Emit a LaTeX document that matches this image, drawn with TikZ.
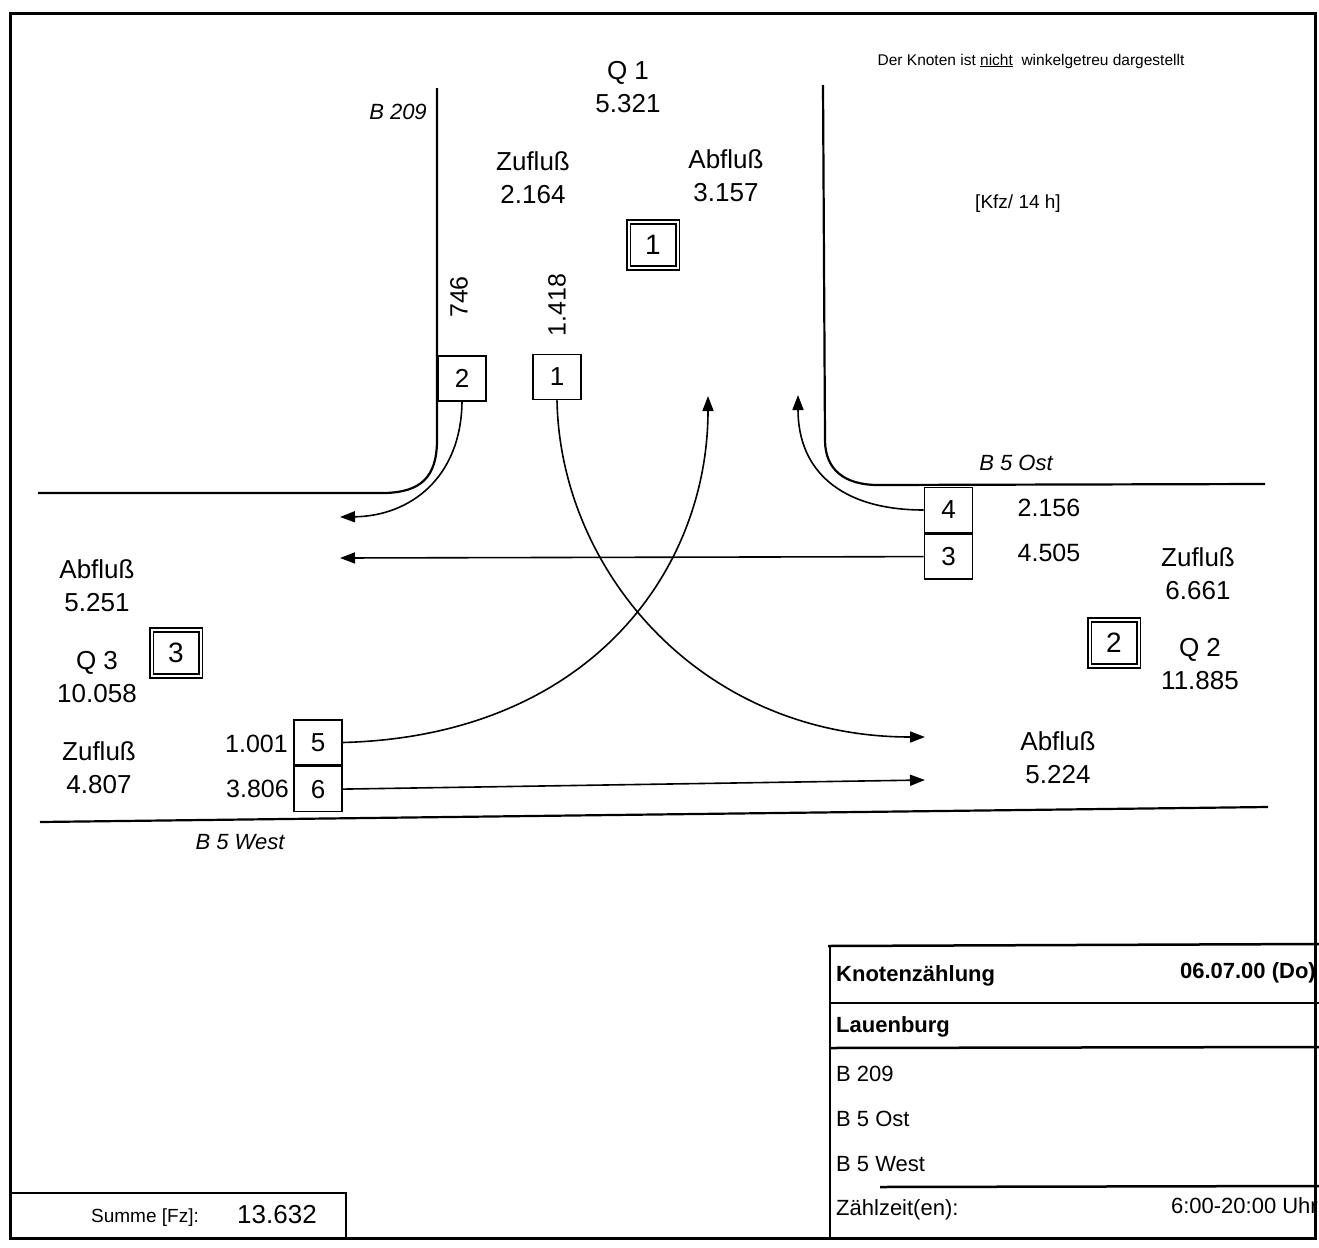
\documentclass[tikz,border=0pt]{standalone}
\usepackage{fontspec}
\setmainfont{Liberation Sans}
\usetikzlibrary{arrows.meta}
\begin{document}
\begin{tikzpicture}[x=1pt,y=-1pt,
  frame/.style={line width=3pt},
  road/.style={line width=2.2pt},
  tline/.style={line width=2.5pt},
  flow/.style={line width=1.6pt,-{Triangle[length=15pt,width=11pt]}},
  countbox/.style={draw,line width=1.6pt,minimum width=48pt,minimum height=45pt,inner sep=0pt,font=\fontsize{26}{26}\selectfont},
  qbox/.style={draw,line width=1.6pt,double,double distance=2pt,minimum width=49pt,minimum height=46pt,inner sep=0pt,font=\fontsize{28}{28}\selectfont},
  lbl/.style={align=center,inner sep=0pt,font=\fontsize{26}{33}\selectfont},
  num/.style={inner sep=0pt,font=\fontsize{25}{25}\selectfont},
  rname/.style={inner sep=0pt,font=\fontsize{22}{22}\selectfont\itshape},
  tab/.style={inner sep=0pt,font=\fontsize{22}{22}\selectfont},
  tabb/.style={inner sep=0pt,font=\fontsize{22}{22}\selectfont\bfseries}]
\useasboundingbox (0,0) rectangle (1319,1247);
% outer frame
\draw[frame] (10,14) rectangle (1315,1238);
% roads
\draw[road] (437,88) -- (437,440) .. controls (437,478) and (420,492) .. (385,493) -- (38,493);
\draw[road] (823,85) -- (825,440) .. controls (825,470) and (845,485) .. (878,485) -- (1265,484);
\draw[road] (40,822) -- (1268,807);
% road names
\node[rname] (nB209) at (398,112) {B 209};
\node[rname] (nOst) at (1016,463) {B 5 Ost};
\node[rname] (nWest) at (240,842) {B 5 West};
% notes
\node[inner sep=0pt,font=\fontsize{15.5}{15.5}\selectfont] (note) at (1031,61) {Der Knoten ist \underline{nicht}\ \ winkelgetreu dargestellt};
\node[inner sep=0pt,font=\fontsize{19}{19}\selectfont] (unit) at (1018,204) {[Kfz/ 14 h]};
% cross-section labels
\node[lbl] (q1) at (628,87) {Q 1\\5.321};
\node[lbl] (z1) at (533,178) {Zufluß\\2.164};
\node[lbl] (a1) at (726,176) {Abfluß\\3.157};
\node[lbl] (z2) at (1198,574) {Zufluß\\6.661};
\node[lbl] (q2) at (1200,664) {Q 2\\11.885};
\node[lbl] (a2) at (1058,758) {Abfluß\\5.224};
\node[lbl] (a3) at (97,586) {Abfluß\\5.251};
\node[lbl] (q3) at (97,677) {Q 3\\10.058};
\node[lbl] (z3) at (99,768) {Zufluß\\4.807};
% double boxes
\node[qbox] (Q1) at (653,245) {1};
\node[qbox] (Q2) at (1114,643) {2};
\node[qbox] (Q3) at (176,653) {3};
% counting boxes
\node[countbox] (b2) at (462,378.5) {2};
\node[countbox] (b1) at (557,377) {1};
\node[countbox] (b4) at (948.5,510) {4};
\node[countbox,anchor=north] (b3) at (b4.south) {3};
\node[countbox] (b5) at (318,742.5) {5};
\node[countbox,anchor=north] (b6) at (b5.south) {6};
% counts
\node[num,rotate=90] (c2) at (459,297) {746};
\node[num,rotate=90] (c1) at (557,305) {1.418};
\node[num] (c4) at (1049,508) {2.156};
\node[num] (c3) at (1049,553) {4.505};
\node[num,anchor=east] (c5) at (288,744) {1.001};
\node[num,anchor=east] (c6) at (289,789) {3.806};
% arrow tips
\coordinate (t2) at (340,517);
\coordinate (t1) at (925,737);
\coordinate (t5) at (708,396);
\coordinate (t6) at (925,780);
\coordinate (t3) at (340,558);
\coordinate (t4) at (798,395);
% flows
\draw[flow] (b2.south) .. controls (461,478) and (410,516) .. (t2);
\draw[flow] (b1.south) .. controls (560,570) and (700,737) .. (t1);
\draw[flow] (b5.east) .. controls (590,736) and (708,570) .. (t5);
\draw[flow] (b6.east) -- (t6);
\draw[flow] (b3.west) -- (t3);
\draw[flow] (b4.west) .. controls (840,510) and (798,470) .. (t4);
% info table
\draw[tline] (828,946) -- (1319,944);
\draw[tline] (830,946) -- (830,1238);
\draw[tline] (830,1003) -- (1319,1003);
\draw[tline] (830,1048) -- (1319,1047);
\draw[tline] (880,1187) -- (1319,1186);
\node[tabb,anchor=west] (k1) at (836,976) {Knotenzählung};
\node[tabb,anchor=east] (k2) at (1316,973) {06.07.00 (Do)};
\node[tabb,anchor=west] (k3) at (836,1027) {Lauenburg};
\node[tab,anchor=west] (k4) at (836,1074) {B 209};
\node[tab,anchor=west] (k5) at (836,1119) {B 5 Ost};
\node[tab,anchor=west] (k6) at (836,1164) {B 5 West};
\node[tab,anchor=west] (k7) at (836,1210) {Zählzeit(en):};
\node[tab,anchor=east] (k8) at (1318,1206) {6:00-20:00 Uhr};
% sum box
\draw[tline] (10,1193) -- (346,1193) -- (346,1238);
\node[inner sep=0pt,font=\fontsize{19}{19}\selectfont] (sl) at (145,1218) {Summe [Fz]:};
\node[inner sep=0pt,font=\fontsize{26}{26}\selectfont] (sv) at (277,1215) {13.632};
\end{tikzpicture}
\end{document}
